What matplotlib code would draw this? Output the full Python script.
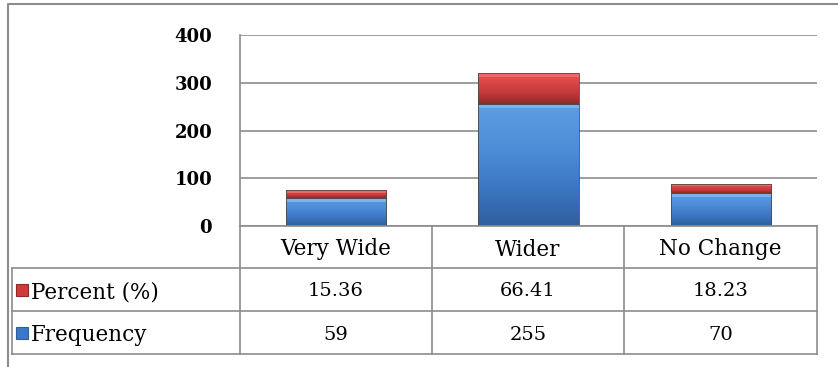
import matplotlib.pyplot as plt
import numpy as np
from matplotlib.colors import LinearSegmentedColormap
from matplotlib.lines import Line2D
from matplotlib.patches import Rectangle

categories = ["Very Wide", "Wider", "No Change"]
frequency = [59, 255, 70]
percent = [15.36, 66.41, 18.23]
percent_labels = ["15.36", "66.41", "18.23"]
freq_labels = ["59", "255", "70"]
series_names = ["Percent (%)", "Frequency"]

plt.rcParams['font.family'] = ['DejaVu Serif']

W, H = 838, 367
fig = plt.figure(figsize=(W / 100, H / 100), dpi=100)


def fx(px):
    return px / W


def fy(py):
    return 1 - py / H


ax = fig.add_axes([fx(240), fy(226), fx(817) - fx(240), fy(35) - fy(226)])
ax.set_xlim(-0.5, 2.5)
ax.set_ylim(0, 400)
ax.set_yticks([0, 100, 200, 300, 400])
ax.set_yticklabels(["0", "100", "200", "300", "400"], fontsize=13, fontweight='bold')
ax.tick_params(axis='y', length=0, pad=20)
ax.set_xticks([])
for s in ['top', 'right', 'bottom']:
    ax.spines[s].set_visible(False)
ax.spines['left'].set_color('#8c8c8c')
ax.spines['left'].set_linewidth(1.2)
ax.yaxis.grid(True, color='#8c8c8c', linewidth=1.2)
ax.set_axisbelow(True)

blue_cmap = LinearSegmentedColormap.from_list('b', ['#2f5f9e', '#3d78c6', '#4f8fd8', '#5c9de3'])
red_cmap = LinearSegmentedColormap.from_list('r', ['#8e2a28', '#c0393a', '#d84646', '#e35a58'])
grad = np.linspace(0, 1, 64).reshape(-1, 1)
units_per_px = 400 / 191


def bevel_bar(x, bottom, height, cmap, light, width=0.52):
    rect = Rectangle((x - width / 2, bottom), width, height, facecolor='none',
                     edgecolor='#4a4a4a', linewidth=0.6, zorder=4)
    ax.add_patch(rect)
    im = ax.imshow(grad, cmap=cmap, aspect='auto', origin='lower',
                   extent=(x - width / 2, x + width / 2, bottom, bottom + height), zorder=3)
    im.set_clip_path(rect)
    bev = min(4 * units_per_px, height * 0.3)
    ax.add_patch(Rectangle((x - width / 2, bottom + height - bev), width, bev,
                           facecolor=light, edgecolor='none', alpha=0.9, zorder=3.5))


x = np.arange(len(categories))
for i in x:
    bevel_bar(i, 0, frequency[i], blue_cmap, '#7db6ef')
    bevel_bar(i, frequency[i], percent[i], red_cmap, '#f06a68')
ax.set_xlim(-0.5, 2.5)
ax.set_ylim(0, 400)

# data table below the plot
grid_c = '#8c8c8c'
col_x = [240, 432, 624, 817]
row_y = [226, 268, 311, 354]
lines = [
    ((240, 817), (226, 226)),
    ((12, 817), (268, 268)),
    ((12, 817), (311, 311)),
    ((12, 817), (354, 354)),
    ((12, 12), (268, 354)),
    ((817, 817), (226, 354)),
    ((432, 432), (226, 354)),
    ((624, 624), (226, 354)),
    ((240, 240), (226, 354)),
]
for xs, ys in lines:
    fig.add_artist(Line2D([fx(v) for v in xs], [fy(v) for v in ys], color=grid_c, linewidth=1.2))

for i, cat in enumerate(categories):
    cx = (col_x[i] + col_x[i + 1]) / 2
    fig.text(fx(cx), fy((row_y[0] + row_y[1]) / 2), cat, ha='center', va='center_baseline', fontsize=15.5)
    fig.text(fx(cx), fy((row_y[1] + row_y[2]) / 2), percent_labels[i], ha='center', va='center_baseline', fontsize=14)
    fig.text(fx(cx), fy((row_y[2] + row_y[3]) / 2), freq_labels[i], ha='center', va='center_baseline', fontsize=14)

# legend keys inside the row labels
key_cols = [('#d03c3c', '#8e2a28'), ('#3d78c6', '#2f5f9e')]
for r, name in enumerate(series_names):
    cy = (row_y[r + 1] + row_y[r + 2]) / 2
    face, edge = key_cols[r]
    fig.add_artist(Rectangle((fx(16), fy(cy + 6)), fx(12), fy(0) - fy(12), facecolor=face,
                             edgecolor=edge, linewidth=0.8, transform=fig.transFigure))
    fig.text(fx(31), fy(cy), name, ha='left', va='center_baseline', fontsize=15.5)

# outer chart border
fig.add_artist(Line2D([fx(8), fx(8), fx(838)], [fy(367), fy(4), fy(4)], color='#8c8c8c', linewidth=1.5))

plt.savefig('out.png', dpi=100)
